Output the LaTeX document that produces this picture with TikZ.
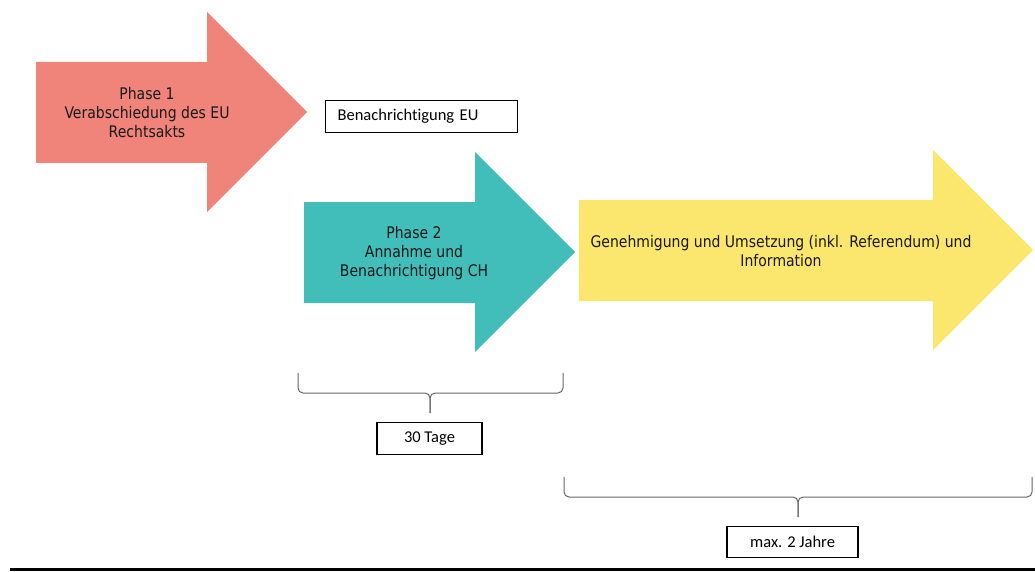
\documentclass[tikz,border=0pt]{standalone}
\usepackage{fontspec}
\setmainfont[Ligatures=NoCommon]{Carlito}
\newfontfamily\phasefont[FakeStretch=0.875]{DejaVu Sans}
\usepackage{tikz}
\usetikzlibrary{positioning, calc}
\definecolor{phaseRed}{RGB}{240,131,122}
\definecolor{phaseTeal}{RGB}{65,189,186}
\definecolor{phaseYellow}{RGB}{252,231,110}
\tikzset{
    phasetext/.style={align=center, font=\phasefont\fontsize{16}{19}\selectfont, text=black!90, inner sep=0pt},
    infobox/.style={draw=black, line width=1.2pt, minimum height=32pt, inner sep=0pt, font=\fontsize{16.5}{19}\selectfont},
    bracket/.style={draw=black!60, line width=1pt, rounded corners=5pt},
}

\begin{document}
\begin{tikzpicture}[x=1pt, y=-1pt]
    \useasboundingbox (0,0) rectangle (1035,572);

    % phase 1
    \fill[phaseRed] (36,62) -- (207,62) -- (207,12) -- (307,112) -- (207,212) -- (207,163) -- (36,163) -- cycle;
    \node[phasetext] (phase1) at (147,113) {Phase 1\\Verabschiedung des EU\\Rechtsakts};

    \node[infobox, anchor=north west, minimum width=192pt, text width=168pt, inner xsep=12pt, align=left] (notifyEU) at (325,100) {Benachrichtigung EU};

    % phase 2
    \fill[phaseTeal] (304,202) -- (475,202) -- (475,152) -- (575,252) -- (475,352) -- (475,303) -- (304,303) -- cycle;
    \node[phasetext] (phase2) at (414,253) {Phase 2\\Annahme und\\Benachrichtigung CH};

    % approval
    \fill[phaseYellow] (579,200) -- (933,200) -- (933,150) -- (1033,250) -- (933,350) -- (933,301) -- (579,301) -- cycle;
    \node[phasetext] (approval) at (781,251.5) {Genehmigung und Umsetzung (inkl. Referendum) und\\Information};

    % durations
    \draw[bracket] (298,373) -- (298,393) -- (430,393) -- (430,413);
    \draw[bracket] (563,373) -- (563,393) -- (430,393) -- (430,413);
    \node[infobox, anchor=north, minimum width=105pt] (days) at (429.5,422) {30 Tage};

    \draw[bracket] (564,477) -- (564,497) -- (798,497) -- (798,517);
    \draw[bracket] (1032,477) -- (1032,497) -- (798,497) -- (798,517);
    \node[infobox, anchor=north, minimum width=131pt, minimum height=31pt] (years) at (792.5,526) {max. 2 Jahre};

    \draw[line width=3.5pt] (10,569.5) -- (1035,569.5);
\end{tikzpicture}
\end{document}
